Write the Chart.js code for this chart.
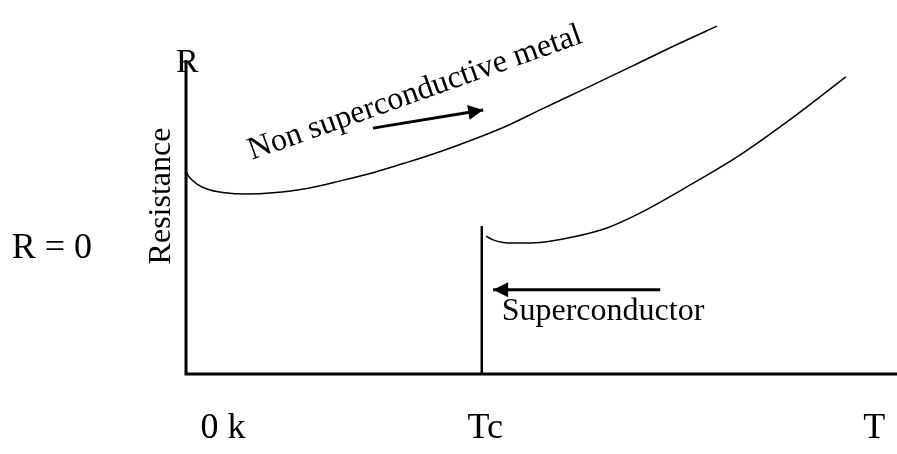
<!DOCTYPE html>
<html>
<head>
<meta charset="utf-8">
<script src="https://cdn.jsdelivr.net/npm/chart.js@4.4.1/dist/chart.umd.min.js"></script>
<style>
  html, body { margin: 0; padding: 0; background: #fff; }
  canvas { display: block; }
</style>
</head>
<body>
<canvas id="rtChart" width="897" height="454"></canvas>
<script>
// temperature (x) and resistance (y), arbitrary units, both axes run 0..100
const metalT = [0, 0.56, 1.55, 2.95, 5.2, 8.6, 12.2, 17.0, 21.7, 26.3, 31.1, 35.7, 40.4, 45.1, 49.8, 55.4, 62.9, 69.5, 74.7];
const metalR = [64.3, 62.4, 60.5, 58.9, 57.8, 57.3, 57.7, 59.1, 61.5, 64.1, 67.4, 70.8, 74.7, 79.0, 84.1, 90.1, 98.2, 105.4, 110.8];

const superT = [42.2, 43.2, 44.6, 46.3, 49.8, 54.4, 59.2, 63.9, 70.9, 77.9, 84.9, 92.8];
const superR = [43.9, 42.7, 41.9, 41.7, 41.9, 43.6, 46.5, 51.3, 60.2, 69.7, 80.9, 94.6];

const tc = 41.6;
const tcJumpR = 47.1;
const axisMax = 100;

// arrows: tail -> tip
const arrowMetalT = [26.3, 41.8];
const arrowMetalR = [78.3, 84.1];
const arrowSuperT = [66.7, 43.2];
const arrowSuperR = [26.8, 26.8];

const xTickLabels = ["0 k", "Tc", "T"];
const xTickValues = [5.2, 42.1, 96.8];

// free text: [text, T, R, rotation in degrees, font size, align]
const notes = [
  ["R", 0.2, 96.2, 0, 34, "center"],
  ["R = 0", -24.5, 36.9, 0, 36, "left"],
  ["Resistance", -3.5, 56.7, -90, 32, "middle"],
  ["Non superconductive metal", 9.3, 68.2, -19.5, 32, "left"],
  ["Superconductor", 44.4, 17.2, 0, 32, "left"],
];

const FAMILY = '"Liberation Serif", "Times New Roman", serif';

function toPoints(xs, ys) {
  return xs.map((x, i) => ({ x: x, y: ys[i] }));
}

const lineBase = {
  borderColor: "#000",
  backgroundColor: "#000",
  pointRadius: 0,
  fill: false,
  clip: false,
};

const datasets = [
  { ...lineBase, label: "axes", data: [{ x: 0, y: axisMax }, { x: 0, y: 0 }, { x: axisMax, y: 0 }], borderWidth: 3, borderJoinStyle: "miter" },
  { ...lineBase, label: "Tc", data: [{ x: tc, y: 0 }, { x: tc, y: tcJumpR }], borderWidth: 2.5 },
  { ...lineBase, label: "Non superconductive metal", data: toPoints(metalT, metalR), borderWidth: 1.5, cubicInterpolationMode: "monotone" },
  { ...lineBase, label: "Superconductor", data: toPoints(superT, superR), borderWidth: 1.5, cubicInterpolationMode: "monotone" },
  { ...lineBase, label: "arrow1", data: toPoints(arrowMetalT, arrowMetalR), borderWidth: 3, arrow: true },
  { ...lineBase, label: "arrow2", data: toPoints(arrowSuperT, arrowSuperR), borderWidth: 3, arrow: true },
];

//! arrowheads at the last point of the arrow datasets + all the text
const annotate = {
  id: "annotate",
  afterDatasetsDraw(chart) {
    const c = chart.ctx;
    const xs = chart.scales.x;
    const ys = chart.scales.y;

    chart.data.datasets.forEach((ds, i) => {
      if (!ds.arrow) return;
      const pts = chart.getDatasetMeta(i).data;
      const a = pts[pts.length - 2];
      const b = pts[pts.length - 1];
      const ang = Math.atan2(b.y - a.y, b.x - a.x);
      const len = 15, half = 7.5;
      c.save();
      c.translate(b.x, b.y);
      c.rotate(ang);
      c.beginPath();
      c.moveTo(0, 0);
      c.lineTo(-len, -half);
      c.lineTo(-len, half);
      c.closePath();
      c.fillStyle = "#000";
      c.fill();
      c.restore();
    });

    c.save();
    c.fillStyle = "#000";
    c.textBaseline = "alphabetic";

    c.font = "36px " + FAMILY;
    c.textAlign = "center";
    xTickLabels.forEach((lab, i) => {
      c.fillText(lab, xs.getPixelForValue(xTickValues[i]), ys.getPixelForValue(0) + 64);
    });

    notes.forEach(([txt, t, r, rot, size, align]) => {
      c.save();
      c.translate(xs.getPixelForValue(t), ys.getPixelForValue(r));
      c.rotate((rot * Math.PI) / 180);
      c.font = size + "px " + FAMILY;
      if (align === "middle") {
        c.textAlign = "center";
        c.textBaseline = "middle";
      } else {
        c.textAlign = align;
      }
      c.fillText(txt, 0, 0);
      c.restore();
    });
    c.restore();
  },
};

new Chart(document.getElementById("rtChart"), {
  type: "scatter",
  data: { datasets: datasets },
  options: {
    responsive: false,
    animation: false,
    showLine: true,
    layout: { padding: { left: 186, right: 0, top: 60, bottom: 80 } },
    scales: {
      x: { type: "linear", min: 0, max: axisMax, display: false },
      y: { type: "linear", min: 0, max: axisMax, display: false },
    },
    plugins: {
      legend: { display: false },
      tooltip: { enabled: false },
    },
  },
  plugins: [annotate],
});
</script>
</body>
</html>
